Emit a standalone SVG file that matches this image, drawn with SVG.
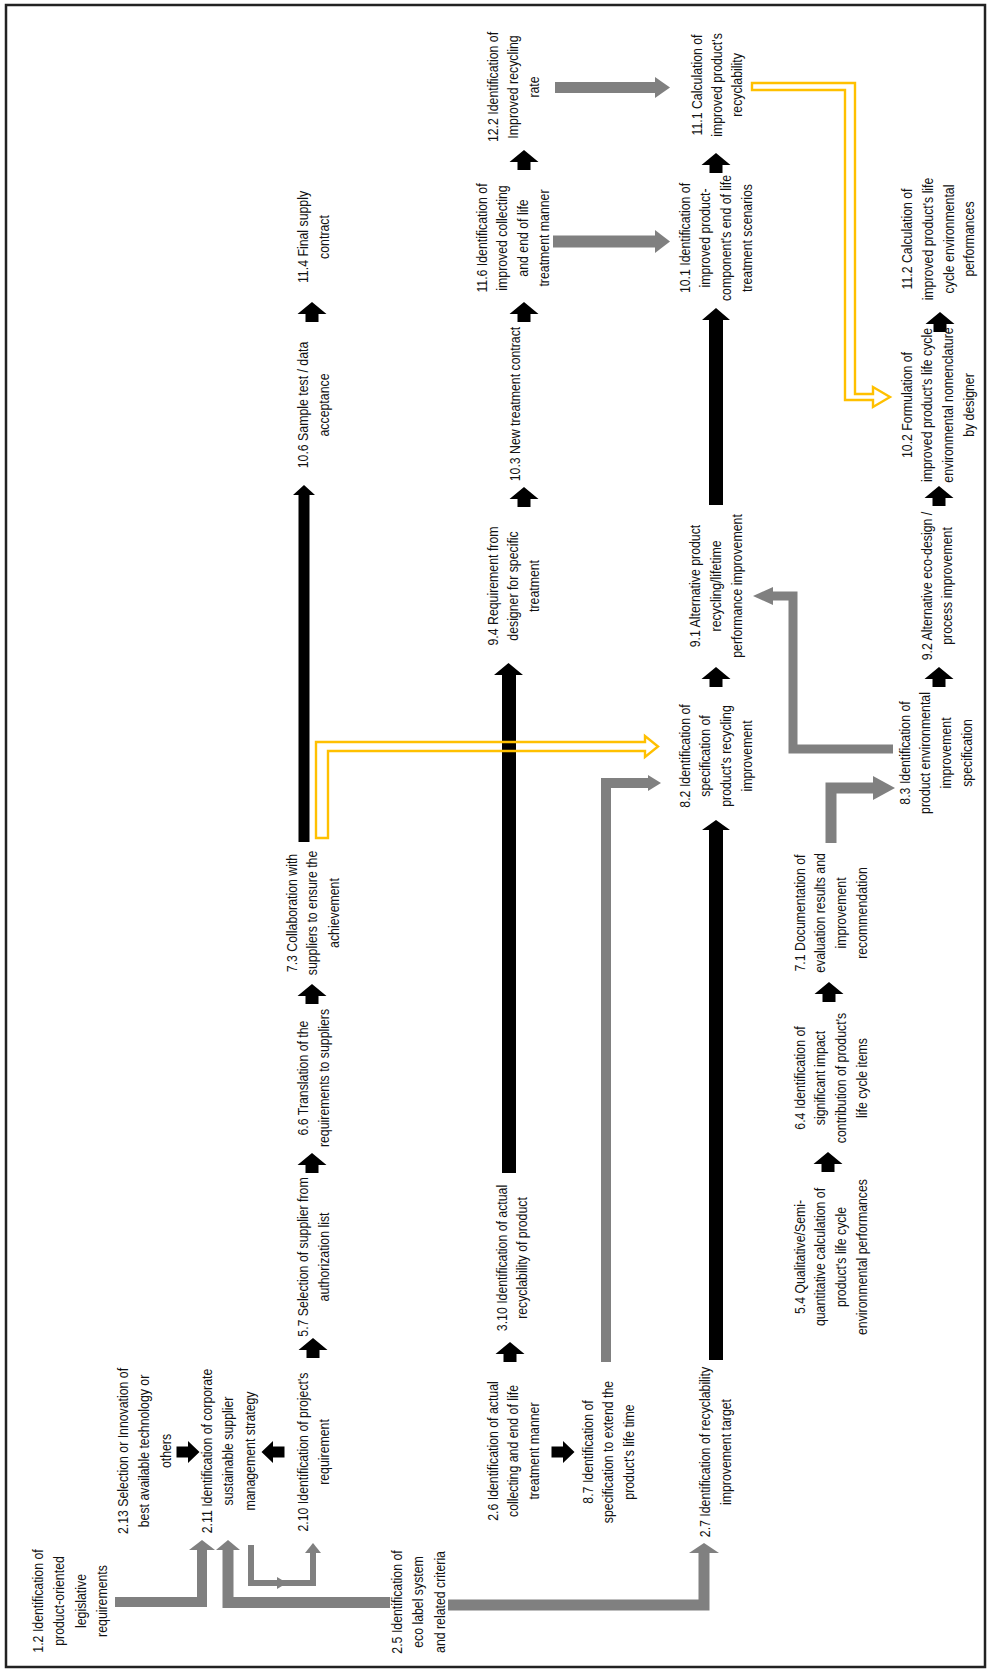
<svg xmlns="http://www.w3.org/2000/svg" width="989" height="1671" viewBox="0 0 989 1671">
<style>
.t{font-family:"Liberation Sans",Arial,sans-serif;font-size:14px;fill:#111;text-anchor:middle}
.g{fill:none;stroke:#808080;stroke-linejoin:miter;stroke-linecap:butt}
.gh{fill:#808080}
.b{fill:#000}
.y{fill:none;stroke:#FFC000;stroke-width:2.4;stroke-linejoin:miter}
</style>
<defs>
<path id="up" d="M0,-10 L14.5,2 L6.5,2 L6.5,10 L-6.5,10 L-6.5,2 L-14.5,2 Z"/>
<path id="rt" d="M11.5,0 L0,-11 L0,-5.5 L-11.5,-5.5 L-11.5,5.5 L0,5.5 L0,11 Z"/>
</defs>
<rect x="0" y="0" width="989" height="1671" fill="#fff"/>
<rect x="6" y="5" width="979" height="1662" fill="none" stroke="#222" stroke-width="2.5"/>

<g id="connectors">
  <!-- small black arrows -->
  <use href="#up" class="b" x="312" y="312"/>
  <use href="#up" class="b" x="312" y="994"/>
  <use href="#up" class="b" x="312" y="1163"/>
  <use href="#up" class="b" x="313" y="1348"/>
  <use href="#up" class="b" x="524" y="160"/>
  <use href="#up" class="b" x="524" y="312"/>
  <use href="#up" class="b" x="524" y="497"/>
  <use href="#up" class="b" x="510" y="1352"/>
  <use href="#up" class="b" x="716" y="163"/>
  <use href="#up" class="b" x="716" y="677"/>
  <use href="#up" class="b" x="939" y="677"/>
  <use href="#up" class="b" x="939" y="496"/>
  <use href="#up" class="b" x="940" y="322"/>
  <use href="#up" class="b" x="829" y="992"/>
  <use href="#up" class="b" x="828" y="1162"/>
  <use href="#rt" class="b" x="188" y="1452"/>
  <use href="#rt" class="b" x="563" y="1452"/>
  <use href="#rt" class="b" transform="translate(273,1452) rotate(180)"/>

  <!-- long black arrows -->
  <polygon class="b" points="298.5,842 298.5,495 293,495 304,485 315,495 309.5,495 309.5,842"/>
  <polygon class="b" points="502,1173 502,675 494,675 508.5,663 523,675 516,675 516,1173"/>
  <polygon class="b" points="709,505 709,320 702,320 716,308 730,320 723,320 723,505"/>
  <polygon class="b" points="709,1360 709,830 702,830 716,820 730,830 723,830 723,1360"/>

  <!-- gray arrows -->
  <polyline class="g" stroke-width="10" points="115,1602 202,1602 202,1550"/>
  <polygon class="gh" points="189,1550 202,1540 215,1550"/>
  <polyline class="g" stroke-width="11" points="390,1602.5 228,1602.5 228,1550"/>
  <polygon class="gh" points="216,1550 228,1540 240,1550"/>
  <polyline class="g" stroke-width="6" points="251,1545 251,1583 313,1583 313,1553"/>
  <polygon class="gh" points="305,1553 313,1543 321,1553"/>
  <polygon class="gh" points="277,1577 287,1583 277,1589"/>
  <polyline class="g" stroke-width="11" points="448,1605 704,1605 704,1553"/>
  <polygon class="gh" points="689,1553 704,1543 719,1553"/>
  <polyline class="g" stroke-width="10" points="606,1362 606,783 648,783"/>
  <polygon class="gh" points="648,775 661,783 648,791"/>
  <line class="g" stroke-width="11" x1="555" y1="87.5" x2="655" y2="87.5"/>
  <polygon class="gh" points="655,77 670,87.5 655,98"/>
  <line class="g" stroke-width="12" x1="553" y1="241.5" x2="655" y2="241.5"/>
  <polygon class="gh" points="655,230 670,241.5 655,253"/>
  <polyline class="g" stroke-width="9" points="893,749 793,749 793,596 773,596"/>
  <polygon class="gh" points="773,587 753,596 773,605"/>
  <polyline class="g" stroke-width="11" points="831,843 831,788 873,788"/>
  <polygon class="gh" points="873,776 895,788 873,800"/>

  <!-- yellow hollow arrows -->
  <polygon class="y" points="752,83 855,83 855,394 873,394 873,387 890,397 873,407 873,400 845,400 845,90 752,90"/>
  <polygon class="y" points="316,838 316,742 645,742 645,736 658,746.5 645,757 645,751 328,751 328,838"/>
</g>

<g id="n11_4"><text class="t" transform="translate(307.5,237) rotate(-90) scale(0.88,1)"><tspan x="0" y="0">11.4 Final supply</tspan><tspan x="0" y="22">contract</tspan></text></g>
<g id="n10_6"><text class="t" transform="translate(307.5,405) rotate(-90) scale(0.88,1)"><tspan x="0" y="0">10.6 Sample test / data</tspan><tspan x="0" y="22">acceptance</tspan></text></g>
<g id="n7_3"><text class="t" transform="translate(296.5,913) rotate(-90) scale(0.88,1)"><tspan x="0" y="0">7.3 Collaboration with</tspan><tspan x="0" y="21">suppliers to ensure the</tspan><tspan x="0" y="43">achievement</tspan></text></g>
<g id="n6_6"><text class="t" transform="translate(307.5,1078) rotate(-90) scale(0.88,1)"><tspan x="0" y="0">6.6 Translation of the</tspan><tspan x="0" y="22">requirements to suppliers</tspan></text></g>
<g id="n5_7"><text class="t" transform="translate(307.5,1257) rotate(-90) scale(0.88,1)"><tspan x="0" y="0">5.7 Selection of supplier from</tspan><tspan x="0" y="22">authorization list</tspan></text></g>
<g id="n2_10"><text class="t" transform="translate(307.5,1452) rotate(-90) scale(0.88,1)"><tspan x="0" y="0">2.10 Identification of project's</tspan><tspan x="0" y="22">requirement</tspan></text></g>
<g id="n2_11"><text class="t" transform="translate(211.5,1451) rotate(-90) scale(0.88,1)"><tspan x="0" y="0">2.11 Identification of corporate</tspan><tspan x="0" y="22">sustainable supplier</tspan><tspan x="0" y="44">management strategy</tspan></text></g>
<g id="n2_13"><text class="t" transform="translate(127.5,1451) rotate(-90) scale(0.88,1)"><tspan x="0" y="0">2.13 Selection or Innovation of</tspan><tspan x="0" y="22">best available technology or</tspan><tspan x="0" y="44">others</tspan></text></g>
<g id="n1_2"><text class="t" transform="translate(42.5,1601) rotate(-90) scale(0.88,1)"><tspan x="0" y="0">1.2 Identification of</tspan><tspan x="0" y="21.7">product-oriented</tspan><tspan x="0" y="43.3">legislative</tspan><tspan x="0" y="65">requirements</tspan></text></g>
<g id="n2_5"><text class="t" transform="translate(402,1602) rotate(-90) scale(0.88,1)"><tspan x="0" y="0">2.5 Identification of</tspan><tspan x="0" y="21.5">eco label system</tspan><tspan x="0" y="43">and related criteria</tspan></text></g>
<g id="n12_2"><text class="t" transform="translate(497.5,87) rotate(-90) scale(0.88,1)"><tspan x="0" y="0">12.2 Identification of</tspan><tspan x="0" y="21">Improved recycling</tspan><tspan x="0" y="42">rate</tspan></text></g>
<g id="n11_6"><text class="t" transform="translate(486.5,238) rotate(-90) scale(0.88,1)"><tspan x="0" y="0">11.6 Identification of</tspan><tspan x="0" y="21">improved collecting</tspan><tspan x="0" y="42">and end of life</tspan><tspan x="0" y="63">treatment manner</tspan></text></g>
<g id="n10_3"><text class="t" transform="translate(519.5,404) rotate(-90) scale(0.88,1)"><tspan x="0" y="0">10.3 New treatment contract</tspan></text></g>
<g id="n9_4"><text class="t" transform="translate(497.5,586) rotate(-90) scale(0.88,1)"><tspan x="0" y="0">9.4 Requirement from</tspan><tspan x="0" y="21">designer for specific</tspan><tspan x="0" y="42">treatment</tspan></text></g>
<g id="n3_10"><text class="t" transform="translate(506.5,1258) rotate(-90) scale(0.88,1)"><tspan x="0" y="0">3.10 Identification of actual</tspan><tspan x="0" y="21">recyclability of product</tspan></text></g>
<g id="n2_6"><text class="t" transform="translate(497.5,1451) rotate(-90) scale(0.88,1)"><tspan x="0" y="0">2.6 Identification of actual</tspan><tspan x="0" y="21">collecting and end of life</tspan><tspan x="0" y="42">treatment manner</tspan></text></g>
<g id="n8_7"><text class="t" transform="translate(592.5,1452) rotate(-90) scale(0.88,1)"><tspan x="0" y="0">8.7 Identification of</tspan><tspan x="0" y="21">specification to extend the</tspan><tspan x="0" y="42">product's life time</tspan></text></g>
<g id="n11_1"><text class="t" transform="translate(701.5,85) rotate(-90) scale(0.88,1)"><tspan x="0" y="0">11.1 Calculation of</tspan><tspan x="0" y="21">improved product's</tspan><tspan x="0" y="41">recyclability</tspan></text></g>
<g id="n10_1"><text class="t" transform="translate(689.5,238) rotate(-90) scale(0.88,1)"><tspan x="0" y="0">10.1 Identification of</tspan><tspan x="0" y="21">improved product-</tspan><tspan x="0" y="42">component's end of life</tspan><tspan x="0" y="63">treatment scenarios</tspan></text></g>
<g id="n9_1"><text class="t" transform="translate(699.5,586) rotate(-90) scale(0.88,1)"><tspan x="0" y="0">9.1 Alternative product</tspan><tspan x="0" y="21.5">recycling/lifetime</tspan><tspan x="0" y="43">performance improvement</tspan></text></g>
<g id="n8_2"><text class="t" transform="translate(689.5,756) rotate(-90) scale(0.88,1)"><tspan x="0" y="0">8.2 Identification of</tspan><tspan x="0" y="21">specification of</tspan><tspan x="0" y="42">product's recycling</tspan><tspan x="0" y="63">improvement</tspan></text></g>
<g id="n2_7"><text class="t" transform="translate(709.5,1452) rotate(-90) scale(0.88,1)"><tspan x="0" y="0">2.7 Identification of recyclability</tspan><tspan x="0" y="22">improvement target</tspan></text></g>
<g id="n7_1"><text class="t" transform="translate(804.5,913) rotate(-90) scale(0.88,1)"><tspan x="0" y="0">7.1 Documentation of</tspan><tspan x="0" y="21">evaluation results and</tspan><tspan x="0" y="42">improvement</tspan><tspan x="0" y="63">recommendation</tspan></text></g>
<g id="n6_4"><text class="t" transform="translate(804.5,1078) rotate(-90) scale(0.88,1)"><tspan x="0" y="0">6.4 Identification of</tspan><tspan x="0" y="21">significant impact</tspan><tspan x="0" y="42">contribution of product's</tspan><tspan x="0" y="63">life cycle items</tspan></text></g>
<g id="n5_4"><text class="t" transform="translate(804.5,1257) rotate(-90) scale(0.88,1)"><tspan x="0" y="0">5.4 Qualitative/Semi-</tspan><tspan x="0" y="21">quantitative calculation of</tspan><tspan x="0" y="42">product's life cycle</tspan><tspan x="0" y="63">environmental performances</tspan></text></g>
<g id="n8_3"><text class="t" transform="translate(909.5,753) rotate(-90) scale(0.88,1)"><tspan x="0" y="0">8.3 Identification of</tspan><tspan x="0" y="21">product environmental</tspan><tspan x="0" y="42">improvement</tspan><tspan x="0" y="63">specification</tspan></text></g>
<g id="n9_2"><text class="t" transform="translate(931.5,586) rotate(-90) scale(0.88,1)"><tspan x="0" y="0">9.2 Alternative eco-design /</tspan><tspan x="0" y="21">process improvement</tspan></text></g>
<g id="n10_2"><text class="t" transform="translate(911.5,405) rotate(-90) scale(0.88,1)"><tspan x="0" y="0">10.2 Formulation of</tspan><tspan x="0" y="21">improved product's life cycle</tspan><tspan x="0" y="42">environmental nomenclature</tspan><tspan x="0" y="63">by designer</tspan></text></g>
<g id="n11_2"><text class="t" transform="translate(911.5,239) rotate(-90) scale(0.88,1)"><tspan x="0" y="0">11.2 Calculation of</tspan><tspan x="0" y="22">improved product's life</tspan><tspan x="0" y="43">cycle environmental</tspan><tspan x="0" y="63">performances</tspan></text></g>
</svg>
